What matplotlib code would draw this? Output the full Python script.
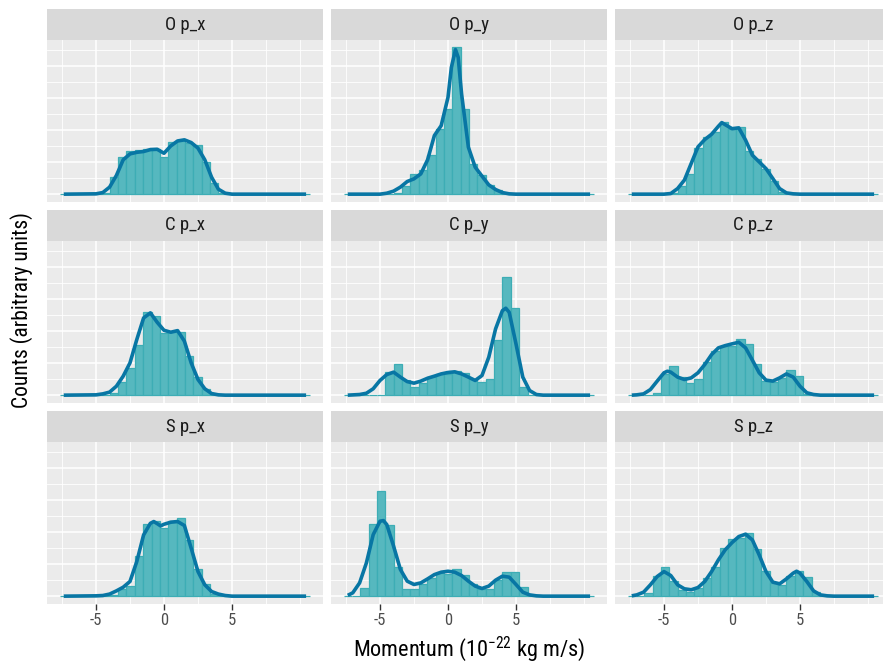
import matplotlib
matplotlib.use('Agg')
import matplotlib.pyplot as plt

plt.rcParams['font.family'] = ['Roboto Condensed', 'Roboto', 'DejaVu Sans']
plt.rcParams['mathtext.default'] = 'regular'

# histogram bins (30 bins shared by all panels)
BIN_LO = -7.68
BIN_W = 0.615
N_BINS = 30

# bar heights per panel (arbitrary units)
O_PX_HIST = [0, 0, 0, 0, 0, 0.05, 1.06, 2.35, 2.73, 2.77, 2.83, 2.83, 2.31, 3.29, 3.35,
             3.2, 3.06, 2.0, 0.69, 0.1, 0, 0, 0, 0, 0, 0, 0, 0, 0, 0]
O_PY_HIST = [0, 0, 0, 0, 0, 0, 0.1, 0.5, 1.29, 1.5, 2.42, 4.08, 5.33, 9.19, 5.33,
             1.9, 1.23, 0.58, 0.23, 0.05, 0, 0, 0, 0, 0, 0, 0, 0, 0, 0]
O_PZ_HIST = [0, 0, 0, 0, 0, 0.06, 0.5, 1.29, 2.9, 3.56, 3.92, 4.5, 4.08, 4.23, 2.73,
             2.21, 1.58, 0.85, 0.13, 0, 0, 0, 0, 0, 0, 0, 0, 0, 0, 0]
C_PX_HIST = [0, 0, 0, 0, 0, 0, 0.15, 0.83, 1.71, 3.13, 5.19, 4.98, 3.9, 3.94, 3.94,
             2.48, 1.13, 0.4, 0.08, 0, 0, 0, 0, 0, 0, 0, 0, 0, 0, 0]
C_PY_HIST = [0, 0, 0, 0, 0, 1.46, 1.96, 0.96, 0.54, 0.75, 1.13, 1.33, 1.33, 1.5, 1.38,
             1.02, 0.81, 1.02, 3.46, 7.38, 5.44, 0.54, 0, 0, 0, 0, 0, 0, 0, 0]
C_PZ_HIST = [0, 0, 0, 0.15, 1.33, 1.85, 1.15, 0.77, 1.02, 2.08, 2.79, 3.06, 3.1, 3.54, 3.21,
             1.98, 0.88, 0.81, 1.08, 1.6, 1.23, 0.1, 0, 0, 0, 0, 0, 0, 0, 0]
S_PX_HIST = [0, 0, 0, 0, 0, 0, 0.1, 0.44, 0.65, 2.54, 4.5, 4.71, 4.29, 4.71, 4.88,
             3.52, 1.71, 0.77, 0.15, 0, 0, 0, 0, 0, 0, 0, 0, 0, 0, 0]
S_PY_HIST = [0, 0, 0.52, 4.54, 6.6, 4.44, 1.81, 0.42, 0.42, 0.79, 1.15, 1.42, 1.4, 1.67, 1.31,
             0.73, 0.42, 0.42, 1.0, 1.52, 1.52, 0.58, 0, 0, 0, 0, 0, 0, 0, 0]
S_PZ_HIST = [0, 0, 0.19, 1.29, 1.81, 0.92, 0.4, 0.29, 0.5, 1.13, 1.85, 3.04, 3.58, 3.67, 3.94,
             2.94, 1.58, 0.81, 0.71, 1.27, 1.6, 1.19, 0.25, 0, 0, 0, 0, 0, 0, 0]

# density curves per panel (x, y)
O_PX_DX = [-7.37, -5, -4.5, -4, -3.5, -3, -2.5, -2, -1.5, -1, -0.5, 0, 0.5, 1, 1.5,
           2, 2.5, 3, 3.5, 4, 4.5, 5, 10.45]
O_PX_DY = [0, 0.02, 0.1, 0.44, 1.17, 2.15, 2.52, 2.62, 2.67, 2.79, 2.81, 2.56, 3.02, 3.33, 3.4,
           3.23, 2.88, 2.15, 1.06, 0.31, 0.06, 0, 0]
O_PY_DX = [-7.37, -5, -4.5, -4, -3.5, -3, -2.5, -2, -1.5, -1, -0.5, 0, 0.25, 0.55, 0.75,
           1, 1.5, 2, 2.5, 3, 3.5, 4, 4.5, 5, 10.45]
O_PY_DY = [0, 0, 0.06, 0.19, 0.44, 0.79, 0.96, 1.27, 2.15, 3.67, 4.29, 6.06, 7.94, 9.05, 8.56,
           6.27, 2.94, 1.69, 1.13, 0.58, 0.29, 0.1, 0.02, 0, 0]
O_PZ_DX = [-7.37, -5, -4.5, -4, -3.5, -3, -2.5, -2, -1.5, -1, -0.75, -0.5, 0, 0.5, 1,
           1.5, 2, 2.5, 3, 3.5, 4, 4.5, 5, 10.45]
O_PZ_DY = [0, 0, 0.04, 0.35, 0.88, 1.92, 2.96, 3.42, 3.75, 4.25, 4.48, 4.35, 4.1, 4.15, 3.38,
           2.44, 2.02, 1.6, 0.98, 0.35, 0.08, 0.02, 0, 0]
C_PX_DX = [-7.37, -5, -4.5, -4, -3.5, -3, -2.5, -2, -1.5, -1, -0.5, 0, 0.5, 1, 1.5,
           2, 2.5, 3, 3.5, 4, 4.5, 10.45]
C_PX_DY = [0, 0.02, 0.08, 0.19, 0.56, 1.19, 2.02, 3.48, 4.83, 5.15, 4.56, 4.06, 3.94, 4.04, 3.38,
           2.02, 0.98, 0.4, 0.1, 0.02, 0, 0]
C_PY_DX = [-7.37, -6.5, -6, -5.5, -5, -4.5, -4, -3.5, -3, -2.5, -2, -1.5, -1, -0.5, 0,
           0.5, 1, 1.5, 2, 2.5, 3, 3.5, 4, 4.25, 4.5, 5, 5.5, 6, 6.5, 7, 10.45]
C_PY_DY = [0, 0.04, 0.12, 0.4, 0.92, 1.29, 1.44, 1.13, 0.85, 0.75, 0.88, 1.06, 1.19, 1.33, 1.42,
           1.46, 1.33, 1.13, 0.92, 1.23, 2.38, 4.15, 5.29, 5.44, 5.19, 3.21, 1.13, 0.29, 0.04, 0, 0]
C_PZ_DX = [-7.37, -7, -6.5, -6, -5.5, -5, -4.75, -4.5, -4, -3.5, -3, -2.5, -2, -1.5, -1,
           -0.5, 0, 0.5, 1, 1.5, 2, 2.5, 3, 3.5, 4, 4.5, 5, 5.5, 6, 6.5, 10.45]
C_PZ_DY = [0, 0.02, 0.08, 0.35, 0.88, 1.4, 1.5, 1.44, 1.13, 0.98, 1.08, 1.4, 1.92, 2.54, 2.96,
           3.1, 3.21, 3.31, 2.96, 2.19, 1.4, 0.94, 0.88, 1.08, 1.33, 1.13, 0.56, 0.15, 0.04, 0, 0]
S_PX_DX = [-7.37, -5, -4.5, -4, -3.5, -3, -2.5, -2, -1.5, -1, -0.75, -0.5, -0.25, 0, 0.5,
           1, 1.5, 2, 2.5, 3, 3.5, 4, 4.5, 5, 10.45]
S_PX_DY = [0, 0.02, 0.04, 0.13, 0.33, 0.56, 0.92, 2.17, 3.83, 4.56, 4.67, 4.54, 4.4, 4.5, 4.63,
           4.67, 4.42, 3.0, 1.54, 0.71, 0.29, 0.13, 0.04, 0, 0]
S_PY_DX = [-7.37, -7, -6.5, -6, -5.5, -5, -4.75, -4.5, -4, -3.5, -3, -2.5, -2, -1.5, -1,
           -0.5, 0, 0.5, 1, 1.5, 2, 2.5, 3, 3.5, 4, 4.5, 5, 5.5, 6, 6.5, 7, 10.45]
S_PY_DY = [0.05, 0.21, 0.83, 2.08, 3.85, 4.69, 4.73, 4.48, 3.13, 1.67, 0.94, 0.73, 0.83, 1.08, 1.35,
           1.5, 1.56, 1.5, 1.29, 0.94, 0.63, 0.48, 0.63, 1.0, 1.25, 1.19, 0.73, 0.25, 0.08, 0.02, 0, 0]
S_PZ_DX = [-7.37, -7, -6.5, -6, -5.5, -5, -4.5, -4, -3.5, -3, -2.5, -2, -1.5, -1, -0.5,
           0, 0.5, 1, 1.5, 2, 2.5, 3, 3.5, 4, 4.5, 4.75, 5, 5.5, 6, 6.5, 7, 7.5, 10.45]
S_PZ_DY = [0.02, 0.08, 0.25, 0.71, 1.23, 1.54, 1.29, 0.71, 0.46, 0.4, 0.54, 0.92, 1.54, 2.27, 2.9,
           3.35, 3.73, 3.88, 3.52, 2.58, 1.54, 0.88, 0.77, 1.08, 1.44, 1.56, 1.44, 0.92, 0.33, 0.08,
           0.02, 0, 0]

PANEL_NAMES = ['O p_x', 'O p_y', 'O p_z', 'C p_x', 'C p_y', 'C p_z', 'S p_x', 'S p_y', 'S p_z']
HISTS = [O_PX_HIST, O_PY_HIST, O_PZ_HIST, C_PX_HIST, C_PY_HIST, C_PZ_HIST,
         S_PX_HIST, S_PY_HIST, S_PZ_HIST]
DENS = [(O_PX_DX, O_PX_DY), (O_PY_DX, O_PY_DY), (O_PZ_DX, O_PZ_DY),
        (C_PX_DX, C_PX_DY), (C_PY_DX, C_PY_DY), (C_PZ_DX, C_PZ_DY),
        (S_PX_DX, S_PX_DY), (S_PY_DX, S_PY_DY), (S_PZ_DX, S_PZ_DY)]

X_TICKS = [-5, 0, 5]
X_TICK_LABELS = ['-5', '0', '5']
X_MINOR = [-7.5, -2.5, 2.5, 7.5, 10]

FILL = '#56b8bf'
EDGE = '#3dadb5'
LINE = '#0876a4'
PANEL_BG = '#ebebeb'
STRIP_BG = '#d9d9d9'

W, H = 883, 669
fig = plt.figure(figsize=(W / 100, H / 100), dpi=100)

bin_left = [BIN_LO + i * BIN_W for i in range(N_BINS)]
x_lo = BIN_LO
x_hi = BIN_LO + N_BINS * BIN_W
x_pad = 0.05 * (x_hi - x_lo)
y_max = max(max(max(h) for h in HISTS), max(max(d[1]) for d in DENS))

col_left = [47, 331, 615]
row_top = [9, 210, 411]
panel_w = 276
strip_h = 31
panel_h = 161.5

for i, name in enumerate(PANEL_NAMES):
    r, c = divmod(i, 3)
    left = col_left[c]
    top = row_top[r]

    # strip
    sax = fig.add_axes([left / W, 1 - (top + strip_h) / H, panel_w / W, strip_h / H])
    sax.set_facecolor(STRIP_BG)
    sax.set_xticks([])
    sax.set_yticks([])
    for s in sax.spines.values():
        s.set_visible(False)
    sax.text(0.5, 0.5, name, ha='center', va='center', fontsize=13.5,
             color='#1a1a1a', transform=sax.transAxes)

    # panel
    ax = fig.add_axes([left / W, 1 - (top + strip_h + panel_h) / H, panel_w / W, panel_h / H])
    ax.set_facecolor(PANEL_BG)
    for s in ax.spines.values():
        s.set_visible(False)
    ax.set_xlim(x_lo - x_pad, x_hi + x_pad)
    ax.set_ylim(-0.05 * y_max, 1.05 * y_max)
    ax.set_xticks(X_TICKS)
    ax.set_xticks(X_MINOR, minor=True)
    ax.set_yticks([0, 2, 4, 6, 8])
    ax.set_yticks([1, 3, 5, 7, 9], minor=True)
    ax.grid(which='major', color='white', linewidth=1.1)
    ax.grid(which='minor', color='white', linewidth=0.6)
    ax.set_axisbelow(True)
    ax.tick_params(axis='y', which='both', length=0, labelleft=False)
    ax.tick_params(axis='x', which='minor', length=0)
    if r == 2:
        ax.set_xticklabels(X_TICK_LABELS)
        ax.tick_params(axis='x', which='major', length=4, width=1, color='#333333',
                       labelsize=12, labelcolor='#4d4d4d', pad=3)
    else:
        ax.tick_params(axis='x', which='major', length=0, labelbottom=False)

    ax.bar(bin_left, HISTS[i], width=BIN_W, align='edge', color=FILL,
           edgecolor=EDGE, linewidth=0.9, zorder=2)
    dx, dy = DENS[i]
    ax.plot(dx, dy, color=LINE, linewidth=2.6, zorder=3, solid_capstyle='butt')

fig.text(469 / W, 1 - 649 / H, 'Momentum (10$^{-22}$ kg m/s)', ha='center', va='center',
         fontsize=16, color='black')
fig.text(22 / W, 1 - 310 / H, 'Counts (arbitrary units)', ha='center', va='center',
         rotation=90, fontsize=15.5, color='black')

fig.savefig('out.png', dpi=100)
